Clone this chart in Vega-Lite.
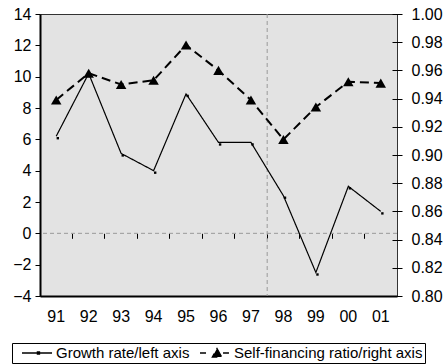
{
  "$schema": "https://vega.github.io/schema/vega-lite/v6.json",
  "width": 357,
  "height": 282,
  "autosize": "none",
  "padding": {"left": 40, "top": 14, "right": 47, "bottom": 68},
  "background": "white",
  "config": {
    "view": {"fill": "#e3e3e3", "stroke": "#333333", "strokeWidth": 1},
    "font": "Liberation Sans",
    "axis": {"labelFont": "Liberation Sans", "labelFontSize": 16, "labelColor": "black", "grid": false, "title": null, "tickColor": "black", "domainColor": "black", "labelOverlap": false, "labelFlush": false}
  },
  "data": {"values": [
    {"year": "91", "growth": 6.2, "ratio": 0.939},
    {"year": "92", "growth": 10.2, "ratio": 0.958},
    {"year": "93", "growth": 5.1, "ratio": 0.950},
    {"year": "94", "growth": 4.0, "ratio": 0.953},
    {"year": "95", "growth": 8.9, "ratio": 0.978},
    {"year": "96", "growth": 5.8, "ratio": 0.960},
    {"year": "97", "growth": 5.8, "ratio": 0.939},
    {"year": "98", "growth": 2.4, "ratio": 0.911},
    {"year": "99", "growth": -2.5, "ratio": 0.934},
    {"year": "00", "growth": 3.0, "ratio": 0.952},
    {"year": "01", "growth": 1.4, "ratio": 0.951}
  ]},
  "layer": [
    {
      "layer": [
        {
          "data": {"values": [{"growth": 0}]},
          "mark": {"type": "rule", "stroke": "#999999", "strokeDash": [4, 3], "strokeWidth": 1},
          "encoding": {
            "y": {"field": "growth", "type": "quantitative", "scale": {"domain": [-4, 14], "nice": false, "zero": false},
              "axis": {"orient": "left", "values": [-4, -2, 0, 2, 4, 6, 8, 10, 12, 14], "tickCount": 10, "tickSize": 5, "labelPadding": 4, "domainWidth": 2}}
          }
        },
        {
          "data": {"values": [{"year": "98"}]},
          "mark": {"type": "rule", "stroke": "#999999", "strokeDash": [4, 3], "strokeWidth": 1},
          "encoding": {
            "x": {"field": "year", "type": "ordinal", "bandPosition": 0,
              "scale": {"type": "band", "domain": ["91","92","93","94","95","96","97","98","99","00","01"], "paddingInner": 0, "paddingOuter": 0},
              "axis": {"orient": "bottom", "ticks": false, "labelPadding": 12, "domainWidth": 2, "labelAngle": 0}}
          }
        },
        {
          "mark": {"type": "line", "stroke": "black", "strokeWidth": 1.2},
          "encoding": {
            "x": {"field": "year", "type": "ordinal",
              "scale": {"type": "band", "domain": ["91","92","93","94","95","96","97","98","99","00","01"], "paddingInner": 0, "paddingOuter": 0},
              "axis": {"orient": "bottom", "ticks": false, "labelPadding": 12, "domainWidth": 2, "labelAngle": 0}},
            "y": {"field": "growth", "type": "quantitative", "scale": {"domain": [-4, 14], "nice": false, "zero": false},
              "axis": {"orient": "left", "values": [-4, -2, 0, 2, 4, 6, 8, 10, 12, 14], "tickCount": 10, "tickSize": 5, "labelPadding": 4, "domainWidth": 2}},
            "strokeDash": {"datum": "Growth rate/left axis", "type": "nominal",
              "scale": {"domain": ["Growth rate/left axis", "Self-financing ratio/right axis"], "range": [[1, 0], [9, 5]]},
              "legend": {
                "orient": "none", "legendX": -28, "legendY": 329, "direction": "horizontal", "title": null,
                "strokeColor": "black", "padding": 2, "symbolSize": 196, "labelFontSize": 15, "labelFont": "Liberation Sans",
                "labelColor": "black", "labelOffset": 26, "columnPadding": 2, "labelLimit": 400, "symbolStrokeColor": "black", "symbolStrokeWidth": 1.3,
                "encode": {"symbols": {"update": {
                  "shape": {"signal": "datum.value === 'Growth rate/left axis' ? 'M0,0H4.29M2.2,-0.15H2.5V0.15H2.2Z' : 'M0,0H0.86M3.29,0H4.14M2.43,-0.64L3.1,0.57L1.76,0.57Z'"},
                  "strokeDash": {"value": [1, 0]},
                  "fill": {"value": "black"},
                  "stroke": {"value": "black"},
                  "opacity": {"value": 1}
                }}}
              }}
          }
        },
        {
          "mark": {"type": "point", "filled": true, "color": "black", "size": 16, "shape": "M0.2,0.4H1.4V1.6H0.2Z", "opacity": 1},
          "encoding": {
            "x": {"field": "year", "type": "ordinal",
              "scale": {"type": "band", "domain": ["91","92","93","94","95","96","97","98","99","00","01"], "paddingInner": 0, "paddingOuter": 0},
              "axis": {"orient": "bottom", "ticks": false, "labelPadding": 12, "domainWidth": 2, "labelAngle": 0}},
            "y": {"field": "growth", "type": "quantitative", "scale": {"domain": [-4, 14], "nice": false, "zero": false},
              "axis": {"orient": "left", "values": [-4, -2, 0, 2, 4, 6, 8, 10, 12, 14], "tickCount": 10, "tickSize": 5, "labelPadding": 4, "domainWidth": 2}}
          }
        }
      ]
    },
    {
      "layer": [
        {
          "mark": {"type": "line", "stroke": "black", "strokeWidth": 2},
          "encoding": {
            "x": {"field": "year", "type": "ordinal",
              "scale": {"type": "band", "domain": ["91","92","93","94","95","96","97","98","99","00","01"], "paddingInner": 0, "paddingOuter": 0},
              "axis": {"orient": "bottom", "offset": -62.7, "labels": false, "domain": false, "ticks": true, "tickSize": 5, "bandPosition": 0}},
            "y": {"field": "ratio", "type": "quantitative", "scale": {"domain": [0.8, 1.0], "nice": false, "zero": false},
              "axis": {"orient": "right", "tickCount": 10, "labelOverlap": false, "labelSeparation": 0, "format": ".2f", "offset": -5, "tickSize": 10, "domain": false, "labelPadding": 9}},
            "strokeDash": {"datum": "Self-financing ratio/right axis", "type": "nominal"}
          }
        },
        {
          "mark": {"type": "point", "filled": true, "color": "black", "size": 110, "shape": "triangle-up", "opacity": 1},
          "encoding": {
            "x": {"field": "year", "type": "ordinal",
              "scale": {"type": "band", "domain": ["91","92","93","94","95","96","97","98","99","00","01"], "paddingInner": 0, "paddingOuter": 0},
              "axis": {"orient": "bottom", "offset": -62.7, "labels": false, "domain": false, "ticks": true, "tickSize": 5, "bandPosition": 0}},
            "y": {"field": "ratio", "type": "quantitative", "scale": {"domain": [0.8, 1.0], "nice": false, "zero": false},
              "axis": {"orient": "right", "tickCount": 10, "labelOverlap": false, "labelSeparation": 0, "format": ".2f", "offset": -5, "tickSize": 10, "domain": false, "labelPadding": 9}}
          }
        }
      ]
    }
  ],
  "resolve": {"scale": {"x": "independent", "y": "independent"}, "axis": {"x": "independent", "y": "independent"}}
}
